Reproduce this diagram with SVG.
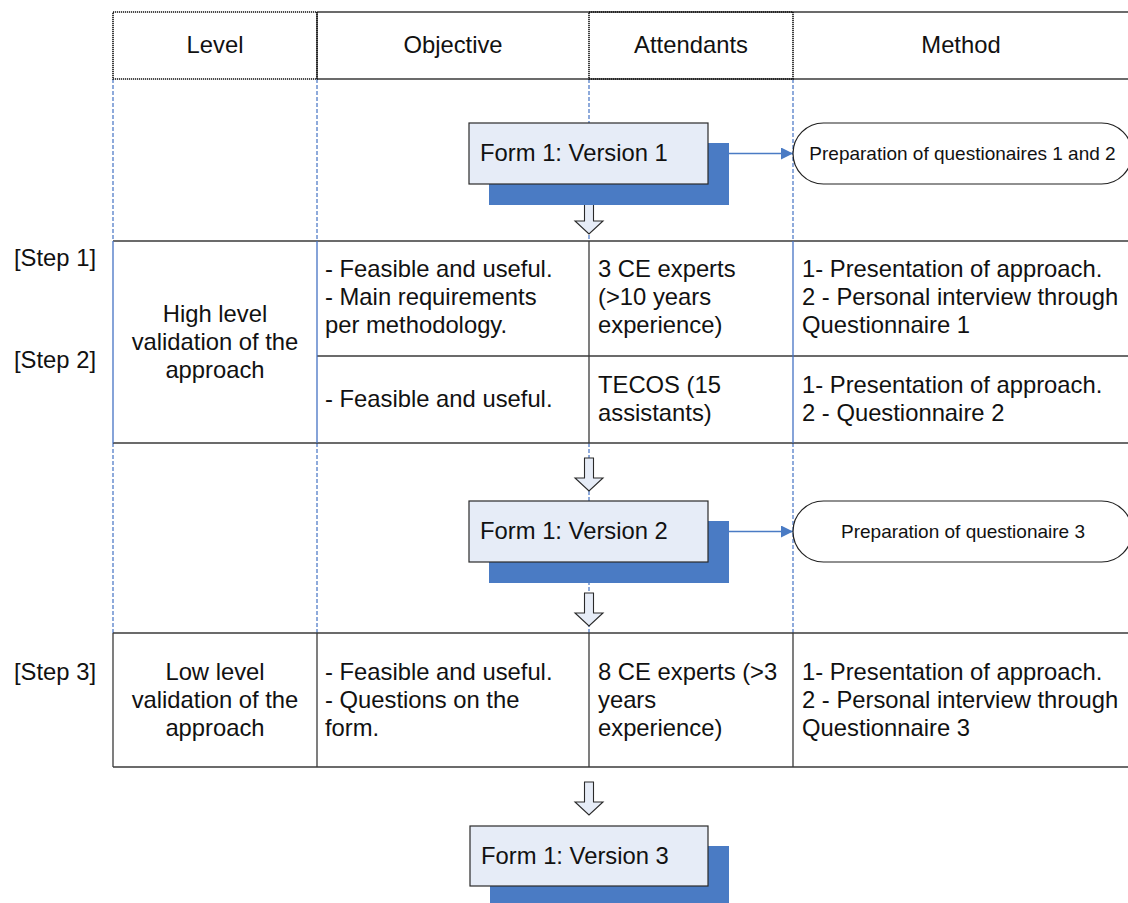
<svg xmlns="http://www.w3.org/2000/svg" width="1128" height="903" viewBox="0 0 1128 903">
  <style>
    text { font-family: "Liberation Sans", Arial, sans-serif; fill: #111; }
    .t { font-size: 23.8px; }
    .c { text-anchor: middle; }
    .small { font-size: 19px; }
    .grid { stroke: #3a3a3a; stroke-width: 1.3; fill: none; }
    .dot { stroke: #111; stroke-width: 1.6; stroke-dasharray: 1.2 0.8; fill: none; }
    .lane { stroke: #4472c4; stroke-width: 1.2; stroke-dasharray: 4 2; fill: none; }
    .laneSolid { stroke: #4472c4; stroke-width: 1.3; fill: none; }
    .shadow { fill: #4a7bc4; }
    .form { fill: #e6ecf7; stroke: #2a2a2a; stroke-width: 1.2; }
    .term { fill: #fff; stroke: #222; stroke-width: 1.2; }
    .flow { fill: #e6ecf7; stroke: #2a2a2a; stroke-width: 1.1; }
    .link { stroke: #4a7bc4; stroke-width: 1.5; fill: none; }
  </style>
  <defs>
    <path id="downArrow" d="M-4.5,0 H4.5 V20 H14 L0,33 L-14,20 H-4.5 Z"/>
    <marker id="tri" viewBox="0 0 12 12" refX="12" refY="6" markerWidth="12" markerHeight="12" markerUnits="userSpaceOnUse" orient="auto">
      <path d="M0,0 L12,6 L0,12 Z" fill="#4a7bc4"/>
    </marker>
  </defs>

  <rect width="1128" height="903" fill="#fff"/>

  <!-- swimlane guides -->
  <g id="lanes">
    <line class="lane" x1="113" y1="79" x2="113" y2="241"/>
    <line class="lane" x1="317" y1="79" x2="317" y2="241"/>
    <line class="lane" x1="589" y1="79" x2="589" y2="241"/>
    <line class="lane" x1="793" y1="79" x2="793" y2="241"/>
    <line class="lane" x1="113" y1="443" x2="113" y2="633"/>
    <line class="lane" x1="317" y1="443" x2="317" y2="633"/>
    <line class="lane" x1="589" y1="443" x2="589" y2="633"/>
    <line class="lane" x1="793" y1="443" x2="793" y2="633"/>
  </g>

  <!-- table grid -->
  <g id="table">
    <line class="grid" x1="317" y1="12" x2="1128" y2="12"/>
    <line class="grid" x1="317" y1="79" x2="1128" y2="79"/>
    <line class="grid" x1="317" y1="12" x2="317" y2="79"/>
    <rect class="dot" x="113" y="12" width="204" height="67"/>
    <rect class="dot" x="589" y="12" width="204" height="67"/>

    <line class="grid" x1="113" y1="241" x2="1128" y2="241"/>
    <line class="grid" x1="317" y1="356" x2="1128" y2="356"/>
    <line class="grid" x1="113" y1="443" x2="1128" y2="443"/>
    <line class="grid" x1="589" y1="241" x2="589" y2="443"/>
    <line class="laneSolid" x1="113" y1="241" x2="113" y2="443"/>
    <line class="laneSolid" x1="317" y1="241" x2="317" y2="443"/>
    <line class="laneSolid" x1="793" y1="241" x2="793" y2="443"/>

    <line class="grid" x1="113" y1="633" x2="1128" y2="633"/>
    <line class="grid" x1="113" y1="767" x2="1128" y2="767"/>
    <line class="grid" x1="113" y1="633" x2="113" y2="767"/>
    <line class="grid" x1="317" y1="633" x2="317" y2="767"/>
    <line class="grid" x1="589" y1="633" x2="589" y2="767"/>
    <line class="grid" x1="793" y1="633" x2="793" y2="767"/>
  </g>

  <!-- header labels -->
  <g id="header">
    <text class="t c" x="215" y="53">Level</text>
    <text class="t c" x="453" y="53">Objective</text>
    <text class="t c" x="691" y="53">Attendants</text>
    <text class="t c" x="961" y="53">Method</text>
  </g>

  <!-- step labels -->
  <g id="steps">
    <text class="t" x="96" y="266" text-anchor="end">[Step 1]</text>
    <text class="t" x="96" y="368" text-anchor="end">[Step 2]</text>
    <text class="t" x="96" y="680" text-anchor="end">[Step 3]</text>
  </g>

  <!-- high level validation rows -->
  <g id="row-high">
    <text class="t c" x="215"><tspan x="215" y="322">High level</tspan><tspan x="215" y="350">validation of the</tspan><tspan x="215" y="378">approach</tspan></text>
    <text class="t" x="325"><tspan x="325" y="277">- Feasible and useful.</tspan><tspan x="325" y="305">- Main requirements</tspan><tspan x="325" y="333">per methodology.</tspan></text>
    <text class="t" x="598"><tspan x="598" y="277">3 CE experts</tspan><tspan x="598" y="305">(&gt;10 years</tspan><tspan x="598" y="333">experience)</tspan></text>
    <text class="t" x="802"><tspan x="802" y="277">1- Presentation of approach.</tspan><tspan x="802" y="305">2 - Personal interview through</tspan><tspan x="802" y="333">Questionnaire 1</tspan></text>
    <text class="t" x="325" y="407">- Feasible and useful.</text>
    <text class="t" x="598"><tspan x="598" y="393">TECOS (15</tspan><tspan x="598" y="421">assistants)</tspan></text>
    <text class="t" x="802"><tspan x="802" y="393">1- Presentation of approach.</tspan><tspan x="802" y="421">2 - Questionnaire 2</tspan></text>
  </g>

  <!-- low level validation row -->
  <g id="row-low">
    <text class="t c" x="215"><tspan x="215" y="680">Low level</tspan><tspan x="215" y="708">validation of the</tspan><tspan x="215" y="736">approach</tspan></text>
    <text class="t" x="325"><tspan x="325" y="680">- Feasible and useful.</tspan><tspan x="325" y="708">- Questions on the</tspan><tspan x="325" y="736">form.</tspan></text>
    <text class="t" x="598"><tspan x="598" y="680">8 CE experts (&gt;3</tspan><tspan x="598" y="708">years</tspan><tspan x="598" y="736">experience)</tspan></text>
    <text class="t" x="802"><tspan x="802" y="680">1- Presentation of approach.</tspan><tspan x="802" y="708">2 - Personal interview through</tspan><tspan x="802" y="736">Questionnaire 3</tspan></text>
  </g>

  <!-- connectors -->
  <g id="connectors">
    <line class="link" x1="729" y1="153.5" x2="793" y2="153.5" marker-end="url(#tri)"/>
    <line class="link" x1="729" y1="531.5" x2="793" y2="531.5" marker-end="url(#tri)"/>
    <use href="#downArrow" class="flow" x="589" y="201"/>
    <use href="#downArrow" class="flow" x="589" y="458"/>
    <use href="#downArrow" class="flow" x="589" y="593"/>
    <use href="#downArrow" class="flow" x="589" y="782"/>
  </g>

  <!-- form versions -->
  <g id="form-v1">
    <rect class="shadow" x="489" y="143" width="240" height="62"/>
    <rect class="form" x="469" y="123" width="239" height="61"/>
    <text class="t" x="480" y="161">Form 1: Version 1</text>
  </g>
  <g id="form-v2">
    <rect class="shadow" x="489" y="521" width="240" height="62"/>
    <rect class="form" x="469" y="501" width="239" height="61"/>
    <text class="t" x="480" y="539">Form 1: Version 2</text>
  </g>
  <g id="form-v3">
    <rect class="shadow" x="490" y="846" width="239" height="62"/>
    <rect class="form" x="470" y="826" width="238" height="60"/>
    <text class="t" x="481" y="864">Form 1: Version 3</text>
  </g>

  <!-- preparation terminators -->
  <g id="prep-1-2">
    <rect class="term" x="793" y="123" width="339" height="61" rx="30.5" ry="30.5"/>
    <text class="small c" x="962.5" y="160">Preparation of questionaires 1 and 2</text>
  </g>
  <g id="prep-3">
    <rect class="term" x="793" y="501" width="339" height="61" rx="30.5" ry="30.5"/>
    <text class="small c" x="963" y="538">Preparation of questionaire 3</text>
  </g>
</svg>
